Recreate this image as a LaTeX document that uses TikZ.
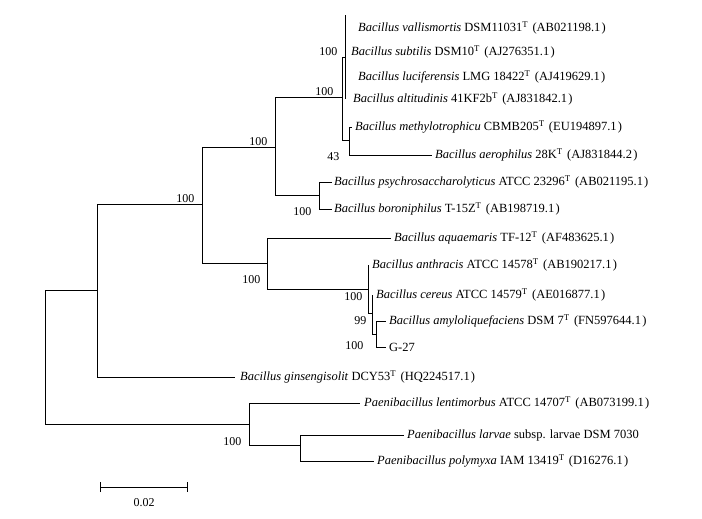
\documentclass[tikz,border=0pt]{standalone}
\usepackage{fontspec}
\setmainfont{Liberation Serif}
\usepackage{tikz}
\usetikzlibrary{
  arrows.meta,
  positioning
}
\newcommand{\typeT}{\textsuperscript{T}}
\newcommand{\acc}[1]{\hspace{.35em}(#1\hspace{.1em})}

\begin{document}
\begin{tikzpicture}[
  x=1pt, y=-1pt,
  branch/.style={
    line width=0.9pt,
    color=black},
  taxon/.style={
    anchor=west, inner sep=1pt,
    font=\fontsize{12.5}{14}\selectfont},
  boot/.style={
    inner sep=0.5pt,
    font=\fontsize{12}{14}\selectfont}
]
\useasboundingbox (0,0) rectangle (702,519);

\coordinate (r) at (45,357);
\coordinate (a) at (97,290);
\coordinate (b) at (202,204);
\coordinate (c) at (275,147);
\coordinate (d) at (342,97);
\coordinate (e) at (345,57);
\coordinate (etop) at (345,15);
\coordinate (f) at (349,140);
\coordinate (g) at (319,195);
\coordinate (h) at (267,263);
\coordinate (i) at (368,289);
\coordinate (j) at (372,313);
\coordinate (k) at (376,334);
\coordinate (p) at (249,424);
\coordinate (q) at (300,445);

\coordinate (vall) at (345,28);
\coordinate (subt) at (345,52);
\coordinate (luci) at (345,77);
\coordinate (alti) at (345,99);
\coordinate (meth) at (352,127);
\coordinate (aero) at (432,155);
\coordinate (psyc) at (332,182);
\coordinate (boro) at (332,209);
\coordinate (aqua) at (391,238);
\coordinate (anth) at (368,265);
\coordinate (cere) at (372,295);
\coordinate (amyl) at (386,321);
\coordinate (g27) at (386,347);
\coordinate (gins) at (235,377);
\coordinate (lent) at (360,403);
\coordinate (larv) at (404,435);
\coordinate (poly) at (374,461);

\draw[branch] (r) |- (a);
\draw[branch] (r) |- (p);
\draw[branch] (a) |- (b);
\draw[branch] (a) |- (gins);
\draw[branch] (b) |- (c);
\draw[branch] (b) |- (h);
\draw[branch] (c) |- (d);
\draw[branch] (c) |- (g);
\draw[branch] (d) |- (e);
\draw[branch] (d) |- (f);
\draw[branch] (e) -- (etop);
\draw[branch] (e) -- (alti);
\draw[branch] (f) |- (meth);
\draw[branch] (f) |- (aero);
\draw[branch] (g) |- (psyc);
\draw[branch] (g) |- (boro);
\draw[branch] (h) |- (aqua);
\draw[branch] (h) |- (i);
\draw[branch] (i) |- (anth);
\draw[branch] (i) |- (j);
\draw[branch] (j) |- (cere);
\draw[branch] (j) |- (k);
\draw[branch] (k) |- (amyl);
\draw[branch] (k) |- (g27);
\draw[branch] (p) |- (lent);
\draw[branch] (p) |- (q);
\draw[branch] (q) |- (larv);
\draw[branch] (q) |- (poly);

\node[taxon, right=12pt of vall] (tvall)
  {\textit{Bacillus vallismortis} DSM11031\typeT\acc{AB021198.1}};
\node[taxon, right=5pt of subt] (tsubt)
  {\textit{Bacillus subtilis} DSM10\typeT\acc{AJ276351.1}};
\node[taxon, right=12pt of luci] (tluci)
  {\textit{Bacillus luciferensis} LMG 18422\typeT\acc{AJ419629.1}};
\node[taxon, right=7pt of alti] (talti)
  {\textit{Bacillus altitudinis} 41KF2b\typeT\acc{AJ831842.1}};
\node[taxon, right=2pt of meth] (tmeth)
  {\textit{Bacillus methylotrophicu} CBMB205\typeT\acc{EU194897.1}};
\node[taxon, right=2pt of aero] (taero)
  {\textit{Bacillus aerophilus} 28K\typeT\acc{AJ831844.2}};
\node[taxon, right=1pt of psyc] (tpsyc)
  {\textit{Bacillus psychrosaccharolyticus} ATCC 23296\typeT\acc{AB021195.1}};
\node[taxon, right=1pt of boro] (tboro)
  {\textit{Bacillus boroniphilus} T-15Z\typeT\acc{AB198719.1}};
\node[taxon, right=2pt of aqua] (taqua)
  {\textit{Bacillus aquaemaris} TF-12\typeT\acc{AF483625.1}};
\node[taxon, right=3pt of anth] (tanth)
  {\textit{Bacillus anthracis} ATCC 14578\typeT\acc{AB190217.1}};
\node[taxon, right=3pt of cere] (tcere)
  {\textit{Bacillus cereus} ATCC 14579\typeT\acc{AE016877.1}};
\node[taxon, right=2pt of amyl] (tamyl)
  {\textit{Bacillus amyloliquefaciens} DSM 7\typeT\acc{FN597644.1}};
\node[taxon, right=2pt of g27] (tg27)
  {G-27};
\node[taxon, right=4pt of gins] (tgins)
  {\textit{Bacillus ginsengisolit} DCY53\typeT\acc{HQ224517.1}};
\node[taxon, right=3pt of lent] (tlent)
  {\textit{Paenibacillus lentimorbus} ATCC 14707\typeT\acc{AB073199.1}};
\node[taxon, right=2pt of larv] (tlarv)
  {\textit{Paenibacillus larvae} subsp. larvae DSM 7030};
\node[taxon, right=2pt of poly] (tpoly)
  {\textit{Paenibacillus polymyxa} IAM 13419\typeT\acc{D16276.1}};

\node[boot, above left=1pt and 7pt of b] (bb) {100};
\node[boot, above left=1pt and 7pt of c] (bc) {100};
\node[boot, above left=1pt and 8pt of d] (bd) {100};
\node[boot, above left=1pt and 7pt of e] (be) {100};
\node[boot, below left=12pt and 9pt of f] (bf) {43};
\node[boot, below left=12pt and 7pt of g] (bg) {100};
\node[boot, below left=12pt and 6pt of h] (bh) {100};
\node[boot, below left=3pt and 5pt of i] (bi) {100};
\node[boot, below left=3pt and 5pt of j] (bj) {99};
\node[boot, below left=7pt and 12pt of k] (bk) {100};
\node[boot, below left=13pt and 7pt of p] (bp) {100};

\coordinate (sbl) at (100,487);
\coordinate (sbr) at (188,487);
\draw[branch, {Bar[width=10pt]}-{Bar[width=10pt]}] (sbl) --
  node[boot, below=11pt] (sblab) {0.02} (sbr);
\end{tikzpicture}
\end{document}
